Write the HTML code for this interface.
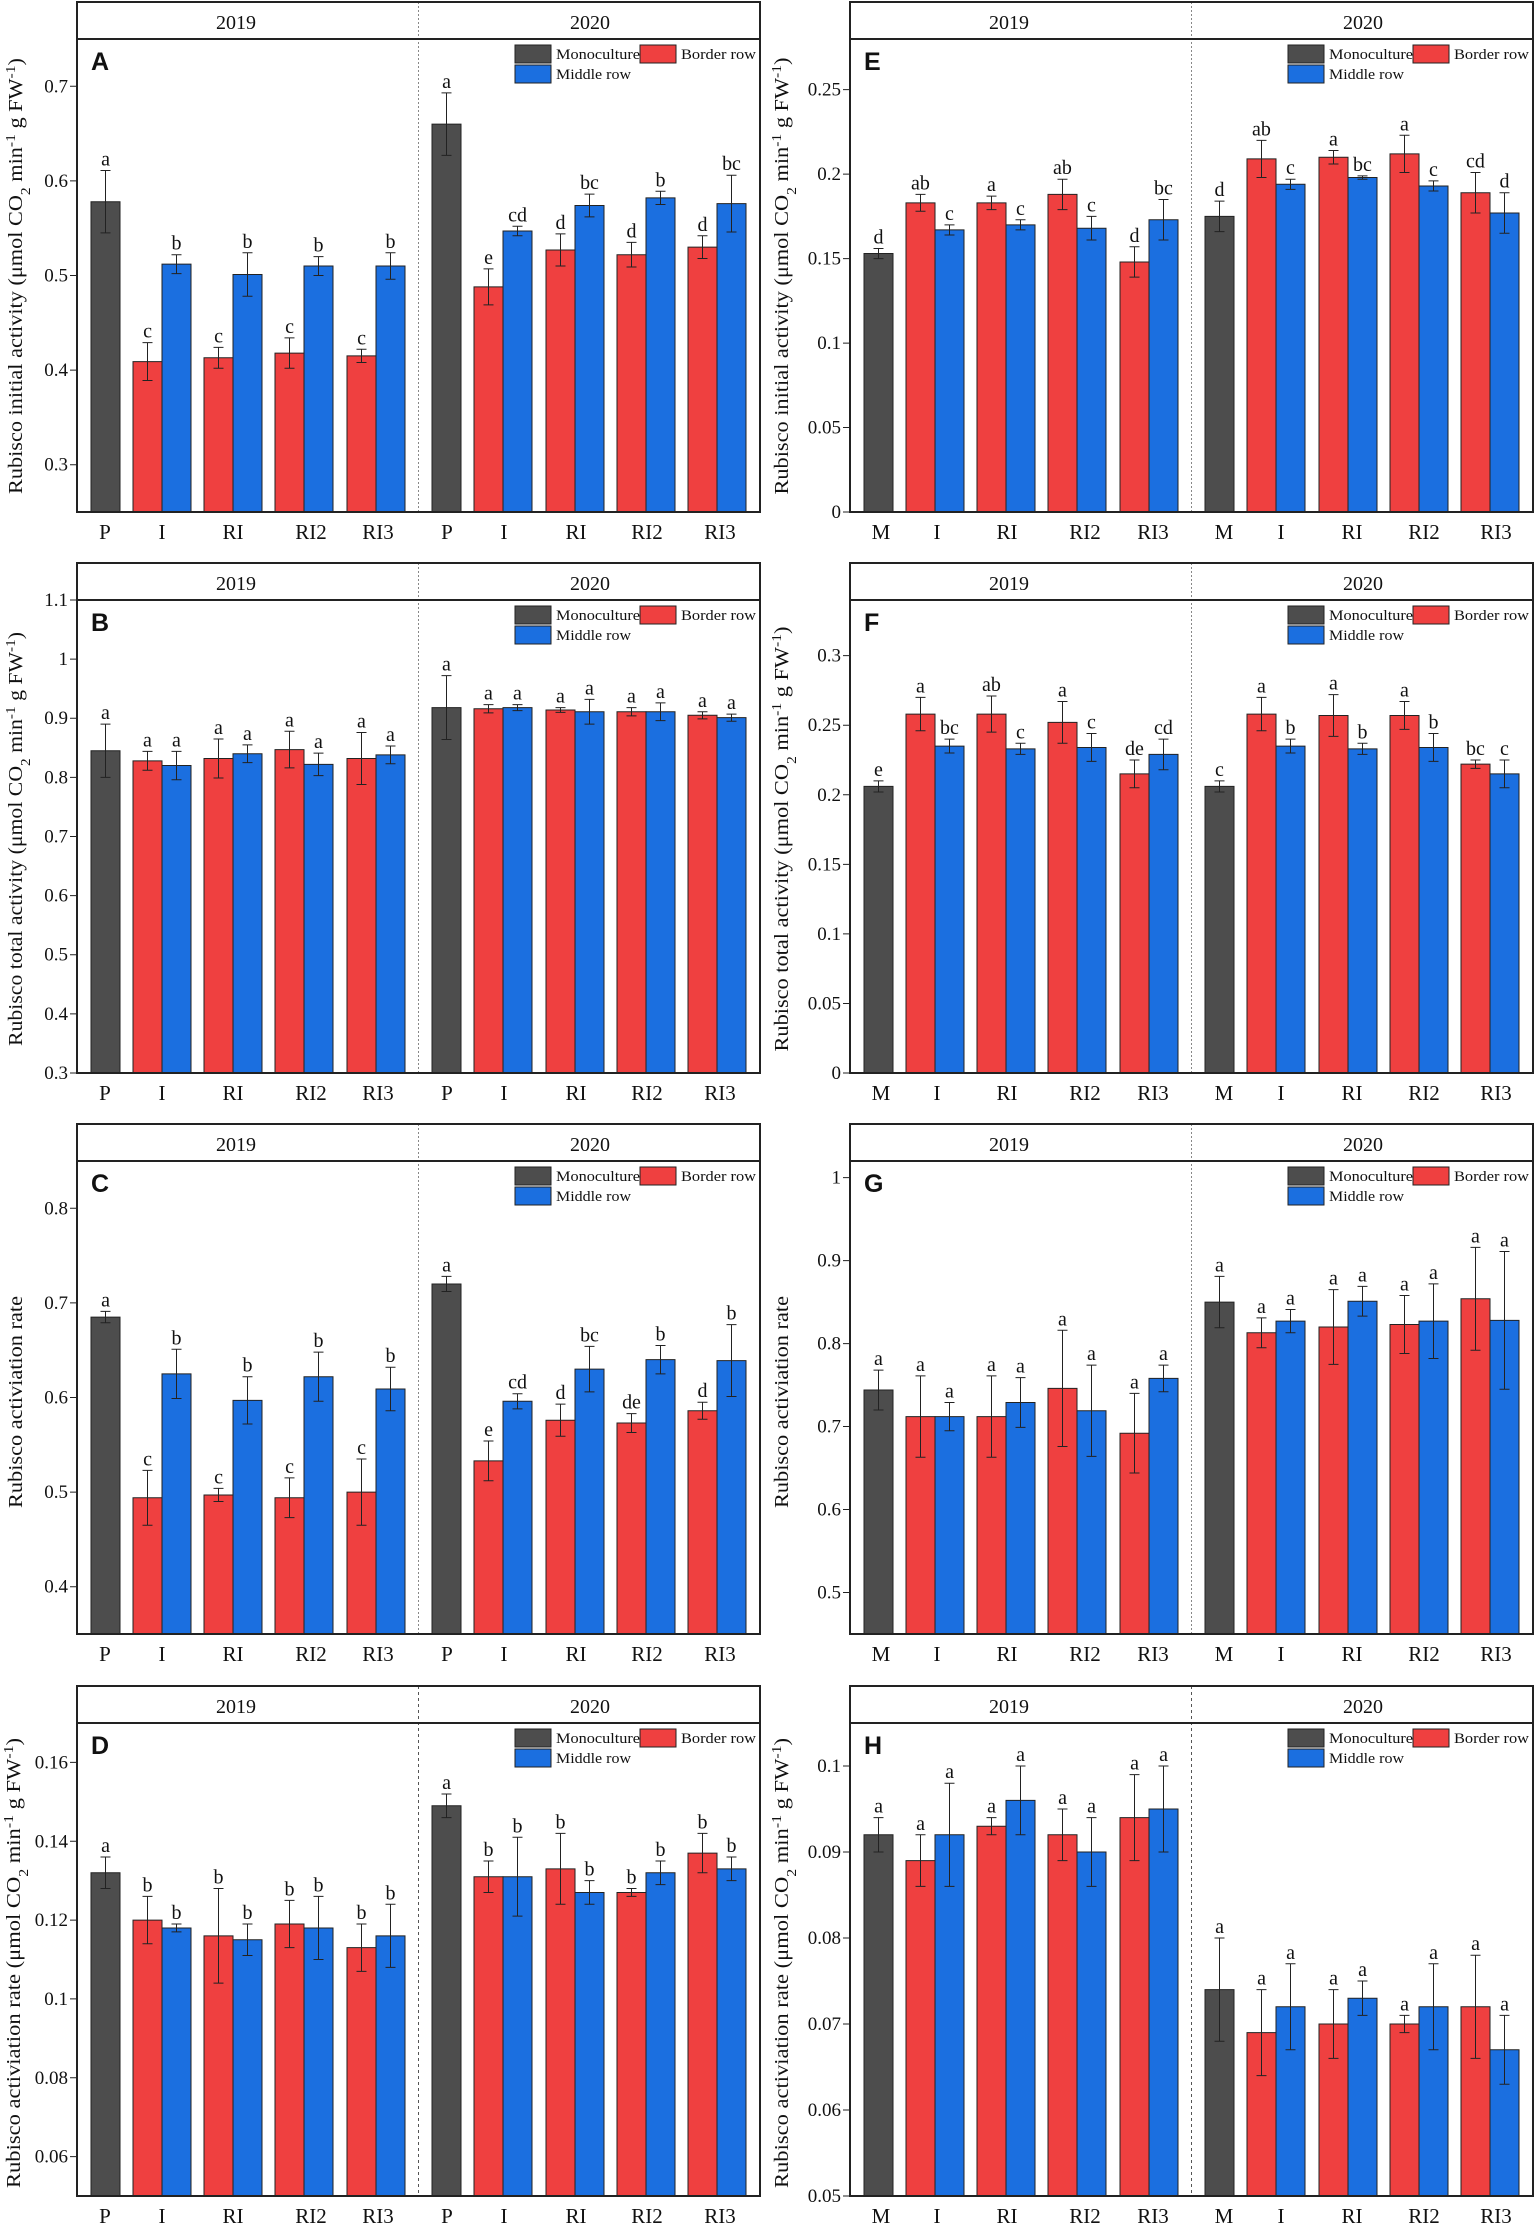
<!DOCTYPE html>
<html><head><meta charset="utf-8">
<style>
html,body{margin:0;padding:0;background:#fff;}
svg{display:block}
text{font-family:"Liberation Serif",serif;fill:#111}
.g{fill:#4d4d4d;stroke:#222;stroke-width:1;vector-effect:non-scaling-stroke}
.r{fill:#ef4040;stroke:#222;stroke-width:1;vector-effect:non-scaling-stroke}
.b{fill:#1b6fe0;stroke:#222;stroke-width:1;vector-effect:non-scaling-stroke}
.e{fill:none;stroke:#222;stroke-width:1;vector-effect:non-scaling-stroke}
.t{font-size:19px;text-anchor:end}
.l{font-size:20px;text-anchor:middle}
.x{font-size:21px;text-anchor:middle}
.y{font-size:20px;text-anchor:middle}
.lg{font-size:15px}
.L{font-family:"Liberation Sans",sans-serif;font-weight:bold;font-size:25px}
.fr{fill:none;stroke:#222;stroke-width:2}
.dv{stroke:#888;stroke-width:1;stroke-dasharray:2 2}
.al{font-size:20px;text-anchor:middle}
</style></head>
<body>
<svg width="1535" height="2225" viewBox="0 0 1535 2225" xmlns="http://www.w3.org/2000/svg">

<!-- ========== PANEL A ========== -->
<g transform="translate(77,2)">
<text class="al" transform="translate(-55,274) rotate(-90)" textLength="436" lengthAdjust="spacingAndGlyphs">Rubisco initial activity (μmol CO<tspan baseline-shift="sub" font-size="14">2</tspan> min<tspan baseline-shift="super" font-size="14">-1</tspan> g FW<tspan baseline-shift="super" font-size="14">-1</tspan>)</text>
<g transform="matrix(1,0,0,-946,0,746.5)">
<path class="e" d="M-7 .3H0M-7 .4H0M-7 .5H0M-7 .6H0M-7 .7H0"/>
<text class="t" transform="translate(-9 .3) scale(1 -.0010571)" y="6">0.3</text>
<text class="t" transform="translate(-9 .4) scale(1 -.0010571)" y="6">0.4</text>
<text class="t" transform="translate(-9 .5) scale(1 -.0010571)" y="6">0.5</text>
<text class="t" transform="translate(-9 .6) scale(1 -.0010571)" y="6">0.6</text>
<text class="t" transform="translate(-9 .7) scale(1 -.0010571)" y="6">0.7</text>
<path class="g" d="M14 .25V.578H43V.25Z"/>
<path class="r" d="M56 .25V.409H85V.25Z"/><path class="b" d="M85 .25V.512H114V.25Z"/>
<path class="r" d="M127 .25V.413H156V.25Z"/><path class="b" d="M156 .25V.501H185V.25Z"/>
<path class="r" d="M198 .25V.418H227V.25Z"/><path class="b" d="M227 .25V.510H256V.25Z"/>
<path class="r" d="M270 .25V.415H299V.25Z"/><path class="b" d="M299 .25V.510H328V.25Z"/>
<path class="g" d="M355 .25V.660H384V.25Z"/>
<path class="r" d="M397 .25V.488H426V.25Z"/><path class="b" d="M426 .25V.547H455V.25Z"/>
<path class="r" d="M469 .25V.527H498V.25Z"/><path class="b" d="M498 .25V.574H527V.25Z"/>
<path class="r" d="M540 .25V.522H569V.25Z"/><path class="b" d="M569 .25V.582H598V.25Z"/>
<path class="r" d="M611 .25V.530H640V.25Z"/><path class="b" d="M640 .25V.576H669V.25Z"/>
<path class="e" d="M23.5 .545H33.5M28.5 .545V.611M23.5 .611H33.5
M65.5 .389H75.5M70.5 .389V.429M65.5 .429H75.5
M94.5 .502H104.5M99.5 .502V.522M94.5 .522H104.5
M136.5 .402H146.5M141.5 .402V.424M136.5 .424H146.5
M165.5 .478H175.5M170.5 .478V.524M165.5 .524H175.5
M207.5 .402H217.5M212.5 .402V.434M207.5 .434H217.5
M236.5 .500H246.5M241.5 .500V.520M236.5 .520H246.5
M279.5 .408H289.5M284.5 .408V.422M279.5 .422H289.5
M308.5 .496H318.5M313.5 .496V.524M308.5 .524H318.5
M364.5 .627H374.5M369.5 .627V.693M364.5 .693H374.5
M406.5 .469H416.5M411.5 .469V.507M406.5 .507H416.5
M435.5 .542H445.5M440.5 .542V.552M435.5 .552H445.5
M478.5 .510H488.5M483.5 .510V.544M478.5 .544H488.5
M507.5 .562H517.5M512.5 .562V.586M507.5 .586H517.5
M549.5 .509H559.5M554.5 .509V.535M549.5 .535H559.5
M578.5 .575H588.5M583.5 .575V.589M578.5 .589H588.5
M620.5 .518H630.5M625.5 .518V.542M620.5 .542H630.5
M649.5 .546H659.5M654.5 .546V.606M649.5 .606H659.5"/>
<text class="l" transform="translate(28.5 .611) scale(1 -.0010571)" y="-5">a</text>
<text class="l" transform="translate(70.5 .429) scale(1 -.0010571)" y="-5">c</text>
<text class="l" transform="translate(99.5 .522) scale(1 -.0010571)" y="-5">b</text>
<text class="l" transform="translate(141.5 .424) scale(1 -.0010571)" y="-5">c</text>
<text class="l" transform="translate(170.5 .524) scale(1 -.0010571)" y="-5">b</text>
<text class="l" transform="translate(212.5 .434) scale(1 -.0010571)" y="-5">c</text>
<text class="l" transform="translate(241.5 .520) scale(1 -.0010571)" y="-5">b</text>
<text class="l" transform="translate(284.5 .422) scale(1 -.0010571)" y="-5">c</text>
<text class="l" transform="translate(313.5 .524) scale(1 -.0010571)" y="-5">b</text>
<text class="l" transform="translate(369.5 .693) scale(1 -.0010571)" y="-5">a</text>
<text class="l" transform="translate(411.5 .507) scale(1 -.0010571)" y="-5">e</text>
<text class="l" transform="translate(440.5 .552) scale(1 -.0010571)" y="-5">cd</text>
<text class="l" transform="translate(483.5 .544) scale(1 -.0010571)" y="-5">d</text>
<text class="l" transform="translate(512.5 .586) scale(1 -.0010571)" y="-5">bc</text>
<text class="l" transform="translate(554.5 .535) scale(1 -.0010571)" y="-5">d</text>
<text class="l" transform="translate(583.5 .589) scale(1 -.0010571)" y="-5">b</text>
<text class="l" transform="translate(625.5 .542) scale(1 -.0010571)" y="-5">d</text>
<text class="l" transform="translate(654.5 .606) scale(1 -.0010571)" y="-5">bc</text>
</g>
<line class="dv" x1="341.5" y1="0" x2="341.5" y2="510"/>
<rect class="fr" x="0" y="0" width="683" height="510"/>
<line class="fr" x1="0" y1="37" x2="683" y2="37"/>
<text class="y" x="159" y="27">2019</text><text class="y" x="513" y="27">2020</text>
<text class="L" x="14" y="68">A</text>
<rect class="g" x="438" y="43" width="36" height="18"/><text class="lg" x="479" y="57" textLength="84" lengthAdjust="spacingAndGlyphs">Monoculture</text>
<rect class="r" x="563" y="43" width="36" height="18"/><text class="lg" x="604" y="57" textLength="75" lengthAdjust="spacingAndGlyphs">Border row</text>
<rect class="b" x="438" y="63" width="36" height="18"/><text class="lg" x="479" y="77" textLength="75" lengthAdjust="spacingAndGlyphs">Middle row</text>
<text class="x" x="28" y="537">P</text><text class="x" x="85" y="537">I</text><text class="x" x="156" y="537">RI</text><text class="x" x="234" y="537">RI2</text><text class="x" x="301" y="537">RI3</text>
<text class="x" x="370" y="537">P</text><text class="x" x="427" y="537">I</text><text class="x" x="499" y="537">RI</text><text class="x" x="570" y="537">RI2</text><text class="x" x="643" y="537">RI3</text>
</g>

<!-- ========== PANEL B ========== -->
<g transform="translate(77,563)">
<text class="al" transform="translate(-55,276) rotate(-90)" textLength="414" lengthAdjust="spacingAndGlyphs">Rubisco total activity (μmol CO<tspan baseline-shift="sub" font-size="14">2</tspan> min<tspan baseline-shift="super" font-size="14">-1</tspan> g FW<tspan baseline-shift="super" font-size="14">-1</tspan>)</text>
<g transform="matrix(1,0,0,-591.25,0,687.375)">
<path class="e" d="M-7 .3H0M-7 .4H0M-7 .5H0M-7 .6H0M-7 .7H0M-7 .8H0M-7 .9H0M-7 1H0M-7 1.1H0"/>
<text class="t" transform="translate(-9 .3) scale(1 -.0016913)" y="6">0.3</text>
<text class="t" transform="translate(-9 .4) scale(1 -.0016913)" y="6">0.4</text>
<text class="t" transform="translate(-9 .5) scale(1 -.0016913)" y="6">0.5</text>
<text class="t" transform="translate(-9 .6) scale(1 -.0016913)" y="6">0.6</text>
<text class="t" transform="translate(-9 .7) scale(1 -.0016913)" y="6">0.7</text>
<text class="t" transform="translate(-9 .8) scale(1 -.0016913)" y="6">0.8</text>
<text class="t" transform="translate(-9 .9) scale(1 -.0016913)" y="6">0.9</text>
<text class="t" transform="translate(-9 1) scale(1 -.0016913)" y="6">1</text>
<text class="t" transform="translate(-9 1.1) scale(1 -.0016913)" y="6">1.1</text>
<path class="g" d="M14 .3V.845H43V.3Z"/>
<path class="r" d="M56 .3V.828H85V.3Z"/><path class="b" d="M85 .3V.820H114V.3Z"/>
<path class="r" d="M127 .3V.832H156V.3Z"/><path class="b" d="M156 .3V.840H185V.3Z"/>
<path class="r" d="M198 .3V.847H227V.3Z"/><path class="b" d="M227 .3V.822H256V.3Z"/>
<path class="r" d="M270 .3V.832H299V.3Z"/><path class="b" d="M299 .3V.838H328V.3Z"/>
<path class="g" d="M355 .3V.918H384V.3Z"/>
<path class="r" d="M397 .3V.916H426V.3Z"/><path class="b" d="M426 .3V.918H455V.3Z"/>
<path class="r" d="M469 .3V.914H498V.3Z"/><path class="b" d="M498 .3V.911H527V.3Z"/>
<path class="r" d="M540 .3V.911H569V.3Z"/><path class="b" d="M569 .3V.911H598V.3Z"/>
<path class="r" d="M611 .3V.905H640V.3Z"/><path class="b" d="M640 .3V.901H669V.3Z"/>
<path class="e" d="M23.5 .800H33.5M28.5 .800V.890M23.5 .890H33.5
M65.5 .812H75.5M70.5 .812V.844M65.5 .844H75.5
M94.5 .796H104.5M99.5 .796V.844M94.5 .844H104.5
M136.5 .799H146.5M141.5 .799V.865M136.5 .865H146.5
M165.5 .825H175.5M170.5 .825V.855M165.5 .855H175.5
M207.5 .816H217.5M212.5 .816V.878M207.5 .878H217.5
M236.5 .803H246.5M241.5 .803V.841M236.5 .841H246.5
M279.5 .788H289.5M284.5 .788V.876M279.5 .876H289.5
M308.5 .823H318.5M313.5 .823V.853M308.5 .853H318.5
M364.5 .864H374.5M369.5 .864V.972M364.5 .972H374.5
M406.5 .909H416.5M411.5 .909V.923M406.5 .923H416.5
M435.5 .913H445.5M440.5 .913V.923M435.5 .923H445.5
M478.5 .910H488.5M483.5 .910V.918M478.5 .918H488.5
M507.5 .890H517.5M512.5 .890V.932M507.5 .932H517.5
M549.5 .904H559.5M554.5 .904V.918M549.5 .918H559.5
M578.5 .896H588.5M583.5 .896V.926M578.5 .926H588.5
M620.5 .899H630.5M625.5 .899V.911M620.5 .911H630.5
M649.5 .895H659.5M654.5 .895V.907M649.5 .907H659.5"/>
<text class="l" transform="translate(28.5 .890) scale(1 -.0016913)" y="-5">a</text>
<text class="l" transform="translate(70.5 .844) scale(1 -.0016913)" y="-5">a</text>
<text class="l" transform="translate(99.5 .844) scale(1 -.0016913)" y="-5">a</text>
<text class="l" transform="translate(141.5 .865) scale(1 -.0016913)" y="-5">a</text>
<text class="l" transform="translate(170.5 .855) scale(1 -.0016913)" y="-5">a</text>
<text class="l" transform="translate(212.5 .878) scale(1 -.0016913)" y="-5">a</text>
<text class="l" transform="translate(241.5 .841) scale(1 -.0016913)" y="-5">a</text>
<text class="l" transform="translate(284.5 .876) scale(1 -.0016913)" y="-5">a</text>
<text class="l" transform="translate(313.5 .853) scale(1 -.0016913)" y="-5">a</text>
<text class="l" transform="translate(369.5 .972) scale(1 -.0016913)" y="-5">a</text>
<text class="l" transform="translate(411.5 .923) scale(1 -.0016913)" y="-5">a</text>
<text class="l" transform="translate(440.5 .923) scale(1 -.0016913)" y="-5">a</text>
<text class="l" transform="translate(483.5 .918) scale(1 -.0016913)" y="-5">a</text>
<text class="l" transform="translate(512.5 .932) scale(1 -.0016913)" y="-5">a</text>
<text class="l" transform="translate(554.5 .918) scale(1 -.0016913)" y="-5">a</text>
<text class="l" transform="translate(583.5 .926) scale(1 -.0016913)" y="-5">a</text>
<text class="l" transform="translate(625.5 .911) scale(1 -.0016913)" y="-5">a</text>
<text class="l" transform="translate(654.5 .907) scale(1 -.0016913)" y="-5">a</text>
</g>
<line class="dv" x1="341.5" y1="0" x2="341.5" y2="510"/>
<rect class="fr" x="0" y="0" width="683" height="510"/>
<line class="fr" x1="0" y1="37" x2="683" y2="37"/>
<text class="y" x="159" y="27">2019</text><text class="y" x="513" y="27">2020</text>
<text class="L" x="14" y="68">B</text>
<rect class="g" x="438" y="43" width="36" height="18"/><text class="lg" x="479" y="57" textLength="84" lengthAdjust="spacingAndGlyphs">Monoculture</text>
<rect class="r" x="563" y="43" width="36" height="18"/><text class="lg" x="604" y="57" textLength="75" lengthAdjust="spacingAndGlyphs">Border row</text>
<rect class="b" x="438" y="63" width="36" height="18"/><text class="lg" x="479" y="77" textLength="75" lengthAdjust="spacingAndGlyphs">Middle row</text>
<text class="x" x="28" y="537">P</text><text class="x" x="85" y="537">I</text><text class="x" x="156" y="537">RI</text><text class="x" x="234" y="537">RI2</text><text class="x" x="301" y="537">RI3</text>
<text class="x" x="370" y="537">P</text><text class="x" x="427" y="537">I</text><text class="x" x="499" y="537">RI</text><text class="x" x="570" y="537">RI2</text><text class="x" x="643" y="537">RI3</text>
</g>

<!-- ========== PANEL C ========== -->
<g transform="translate(77,1124)">
<text class="al" transform="translate(-55,278) rotate(-90)" textLength="212" lengthAdjust="spacingAndGlyphs">Rubisco activiation rate</text>
<g transform="matrix(1,0,0,-946,0,841.1)">
<path class="e" d="M-7 .4H0M-7 .5H0M-7 .6H0M-7 .7H0M-7 .8H0"/>
<text class="t" transform="translate(-9 .4) scale(1 -.0010571)" y="6">0.4</text>
<text class="t" transform="translate(-9 .5) scale(1 -.0010571)" y="6">0.5</text>
<text class="t" transform="translate(-9 .6) scale(1 -.0010571)" y="6">0.6</text>
<text class="t" transform="translate(-9 .7) scale(1 -.0010571)" y="6">0.7</text>
<text class="t" transform="translate(-9 .8) scale(1 -.0010571)" y="6">0.8</text>
<path class="g" d="M14 .35V.685H43V.35Z"/>
<path class="r" d="M56 .35V.494H85V.35Z"/><path class="b" d="M85 .35V.625H114V.35Z"/>
<path class="r" d="M127 .35V.497H156V.35Z"/><path class="b" d="M156 .35V.597H185V.35Z"/>
<path class="r" d="M198 .35V.494H227V.35Z"/><path class="b" d="M227 .35V.622H256V.35Z"/>
<path class="r" d="M270 .35V.500H299V.35Z"/><path class="b" d="M299 .35V.609H328V.35Z"/>
<path class="g" d="M355 .35V.720H384V.35Z"/>
<path class="r" d="M397 .35V.533H426V.35Z"/><path class="b" d="M426 .35V.596H455V.35Z"/>
<path class="r" d="M469 .35V.576H498V.35Z"/><path class="b" d="M498 .35V.630H527V.35Z"/>
<path class="r" d="M540 .35V.573H569V.35Z"/><path class="b" d="M569 .35V.640H598V.35Z"/>
<path class="r" d="M611 .35V.586H640V.35Z"/><path class="b" d="M640 .35V.639H669V.35Z"/>
<path class="e" d="M23.5 .679H33.5M28.5 .679V.691M23.5 .691H33.5
M65.5 .465H75.5M70.5 .465V.523M65.5 .523H75.5
M94.5 .599H104.5M99.5 .599V.651M94.5 .651H104.5
M136.5 .490H146.5M141.5 .490V.504M136.5 .504H146.5
M165.5 .572H175.5M170.5 .572V.622M165.5 .622H175.5
M207.5 .473H217.5M212.5 .473V.515M207.5 .515H217.5
M236.5 .596H246.5M241.5 .596V.648M236.5 .648H246.5
M279.5 .465H289.5M284.5 .465V.535M279.5 .535H289.5
M308.5 .586H318.5M313.5 .586V.632M308.5 .632H318.5
M364.5 .712H374.5M369.5 .712V.728M364.5 .728H374.5
M406.5 .512H416.5M411.5 .512V.554M406.5 .554H416.5
M435.5 .588H445.5M440.5 .588V.604M435.5 .604H445.5
M478.5 .559H488.5M483.5 .559V.593M478.5 .593H488.5
M507.5 .606H517.5M512.5 .606V.654M507.5 .654H517.5
M549.5 .563H559.5M554.5 .563V.583M549.5 .583H559.5
M578.5 .625H588.5M583.5 .625V.655M578.5 .655H588.5
M620.5 .577H630.5M625.5 .577V.595M620.5 .595H630.5
M649.5 .601H659.5M654.5 .601V.677M649.5 .677H659.5"/>
<text class="l" transform="translate(28.5 .691) scale(1 -.0010571)" y="-5">a</text>
<text class="l" transform="translate(70.5 .523) scale(1 -.0010571)" y="-5">c</text>
<text class="l" transform="translate(99.5 .651) scale(1 -.0010571)" y="-5">b</text>
<text class="l" transform="translate(141.5 .504) scale(1 -.0010571)" y="-5">c</text>
<text class="l" transform="translate(170.5 .622) scale(1 -.0010571)" y="-5">b</text>
<text class="l" transform="translate(212.5 .515) scale(1 -.0010571)" y="-5">c</text>
<text class="l" transform="translate(241.5 .648) scale(1 -.0010571)" y="-5">b</text>
<text class="l" transform="translate(284.5 .535) scale(1 -.0010571)" y="-5">c</text>
<text class="l" transform="translate(313.5 .632) scale(1 -.0010571)" y="-5">b</text>
<text class="l" transform="translate(369.5 .728) scale(1 -.0010571)" y="-5">a</text>
<text class="l" transform="translate(411.5 .554) scale(1 -.0010571)" y="-5">e</text>
<text class="l" transform="translate(440.5 .604) scale(1 -.0010571)" y="-5">cd</text>
<text class="l" transform="translate(483.5 .593) scale(1 -.0010571)" y="-5">d</text>
<text class="l" transform="translate(512.5 .654) scale(1 -.0010571)" y="-5">bc</text>
<text class="l" transform="translate(554.5 .583) scale(1 -.0010571)" y="-5">de</text>
<text class="l" transform="translate(583.5 .655) scale(1 -.0010571)" y="-5">b</text>
<text class="l" transform="translate(625.5 .595) scale(1 -.0010571)" y="-5">d</text>
<text class="l" transform="translate(654.5 .677) scale(1 -.0010571)" y="-5">b</text>
</g>
<line class="dv" x1="341.5" y1="0" x2="341.5" y2="510"/>
<rect class="fr" x="0" y="0" width="683" height="510"/>
<line class="fr" x1="0" y1="37" x2="683" y2="37"/>
<text class="y" x="159" y="27">2019</text><text class="y" x="513" y="27">2020</text>
<text class="L" x="14" y="68">C</text>
<rect class="g" x="438" y="43" width="36" height="18"/><text class="lg" x="479" y="57" textLength="84" lengthAdjust="spacingAndGlyphs">Monoculture</text>
<rect class="r" x="563" y="43" width="36" height="18"/><text class="lg" x="604" y="57" textLength="75" lengthAdjust="spacingAndGlyphs">Border row</text>
<rect class="b" x="438" y="63" width="36" height="18"/><text class="lg" x="479" y="77" textLength="75" lengthAdjust="spacingAndGlyphs">Middle row</text>
<text class="x" x="28" y="537">P</text><text class="x" x="85" y="537">I</text><text class="x" x="156" y="537">RI</text><text class="x" x="234" y="537">RI2</text><text class="x" x="301" y="537">RI3</text>
<text class="x" x="370" y="537">P</text><text class="x" x="427" y="537">I</text><text class="x" x="499" y="537">RI</text><text class="x" x="570" y="537">RI2</text><text class="x" x="643" y="537">RI3</text>
</g>

<!-- ========== PANEL D ========== -->
<g transform="translate(77,1686)">
<text class="al" transform="translate(-57,277) rotate(-90)" textLength="450" lengthAdjust="spacingAndGlyphs">Rubisco activiation rate (μmol CO<tspan baseline-shift="sub" font-size="14">2</tspan> min<tspan baseline-shift="super" font-size="14">-1</tspan> g FW<tspan baseline-shift="super" font-size="14">-1</tspan>)</text>
<g transform="matrix(1,0,0,-3941.7,0,707.08)">
<path class="e" d="M-7 .06H0M-7 .08H0M-7 .1H0M-7 .12H0M-7 .14H0M-7 .16H0"/>
<text class="t" transform="translate(-9 .06) scale(1 -.0002537)" y="6">0.06</text>
<text class="t" transform="translate(-9 .08) scale(1 -.0002537)" y="6">0.08</text>
<text class="t" transform="translate(-9 .1) scale(1 -.0002537)" y="6">0.1</text>
<text class="t" transform="translate(-9 .12) scale(1 -.0002537)" y="6">0.12</text>
<text class="t" transform="translate(-9 .14) scale(1 -.0002537)" y="6">0.14</text>
<text class="t" transform="translate(-9 .16) scale(1 -.0002537)" y="6">0.16</text>
<path class="g" d="M14 .05V.132H43V.05Z"/>
<path class="r" d="M56 .05V.120H85V.05Z"/><path class="b" d="M85 .05V.118H114V.05Z"/>
<path class="r" d="M127 .05V.116H156V.05Z"/><path class="b" d="M156 .05V.115H185V.05Z"/>
<path class="r" d="M198 .05V.119H227V.05Z"/><path class="b" d="M227 .05V.118H256V.05Z"/>
<path class="r" d="M270 .05V.113H299V.05Z"/><path class="b" d="M299 .05V.116H328V.05Z"/>
<path class="g" d="M355 .05V.149H384V.05Z"/>
<path class="r" d="M397 .05V.131H426V.05Z"/><path class="b" d="M426 .05V.131H455V.05Z"/>
<path class="r" d="M469 .05V.133H498V.05Z"/><path class="b" d="M498 .05V.127H527V.05Z"/>
<path class="r" d="M540 .05V.127H569V.05Z"/><path class="b" d="M569 .05V.132H598V.05Z"/>
<path class="r" d="M611 .05V.137H640V.05Z"/><path class="b" d="M640 .05V.133H669V.05Z"/>
<path class="e" d="M23.5 .128H33.5M28.5 .128V.136M23.5 .136H33.5
M65.5 .114H75.5M70.5 .114V.126M65.5 .126H75.5
M94.5 .117H104.5M99.5 .117V.119M94.5 .119H104.5
M136.5 .104H146.5M141.5 .104V.128M136.5 .128H146.5
M165.5 .111H175.5M170.5 .111V.119M165.5 .119H175.5
M207.5 .113H217.5M212.5 .113V.125M207.5 .125H217.5
M236.5 .110H246.5M241.5 .110V.126M236.5 .126H246.5
M279.5 .107H289.5M284.5 .107V.119M279.5 .119H289.5
M308.5 .108H318.5M313.5 .108V.124M308.5 .124H318.5
M364.5 .146H374.5M369.5 .146V.152M364.5 .152H374.5
M406.5 .127H416.5M411.5 .127V.135M406.5 .135H416.5
M435.5 .121H445.5M440.5 .121V.141M435.5 .141H445.5
M478.5 .124H488.5M483.5 .124V.142M478.5 .142H488.5
M507.5 .124H517.5M512.5 .124V.130M507.5 .130H517.5
M549.5 .126H559.5M554.5 .126V.128M549.5 .128H559.5
M578.5 .129H588.5M583.5 .129V.135M578.5 .135H588.5
M620.5 .132H630.5M625.5 .132V.142M620.5 .142H630.5
M649.5 .130H659.5M654.5 .130V.136M649.5 .136H659.5"/>
<text class="l" transform="translate(28.5 .136) scale(1 -.0002537)" y="-5">a</text>
<text class="l" transform="translate(70.5 .126) scale(1 -.0002537)" y="-5">b</text>
<text class="l" transform="translate(99.5 .119) scale(1 -.0002537)" y="-5">b</text>
<text class="l" transform="translate(141.5 .128) scale(1 -.0002537)" y="-5">b</text>
<text class="l" transform="translate(170.5 .119) scale(1 -.0002537)" y="-5">b</text>
<text class="l" transform="translate(212.5 .125) scale(1 -.0002537)" y="-5">b</text>
<text class="l" transform="translate(241.5 .126) scale(1 -.0002537)" y="-5">b</text>
<text class="l" transform="translate(284.5 .119) scale(1 -.0002537)" y="-5">b</text>
<text class="l" transform="translate(313.5 .124) scale(1 -.0002537)" y="-5">b</text>
<text class="l" transform="translate(369.5 .152) scale(1 -.0002537)" y="-5">a</text>
<text class="l" transform="translate(411.5 .135) scale(1 -.0002537)" y="-5">b</text>
<text class="l" transform="translate(440.5 .141) scale(1 -.0002537)" y="-5">b</text>
<text class="l" transform="translate(483.5 .142) scale(1 -.0002537)" y="-5">b</text>
<text class="l" transform="translate(512.5 .130) scale(1 -.0002537)" y="-5">b</text>
<text class="l" transform="translate(554.5 .128) scale(1 -.0002537)" y="-5">b</text>
<text class="l" transform="translate(583.5 .135) scale(1 -.0002537)" y="-5">b</text>
<text class="l" transform="translate(625.5 .142) scale(1 -.0002537)" y="-5">b</text>
<text class="l" transform="translate(654.5 .136) scale(1 -.0002537)" y="-5">b</text>
</g>
<line class="dv" x1="341.5" y1="0" x2="341.5" y2="510" style="stroke:#555;stroke-dasharray:3 3"/>
<rect class="fr" x="0" y="0" width="683" height="510"/>
<line class="fr" x1="0" y1="37" x2="683" y2="37"/>
<text class="y" x="159" y="27">2019</text><text class="y" x="513" y="27">2020</text>
<text class="L" x="14" y="68">D</text>
<rect class="g" x="438" y="43" width="36" height="18"/><text class="lg" x="479" y="57" textLength="84" lengthAdjust="spacingAndGlyphs">Monoculture</text>
<rect class="r" x="563" y="43" width="36" height="18"/><text class="lg" x="604" y="57" textLength="75" lengthAdjust="spacingAndGlyphs">Border row</text>
<rect class="b" x="438" y="63" width="36" height="18"/><text class="lg" x="479" y="77" textLength="75" lengthAdjust="spacingAndGlyphs">Middle row</text>
<text class="x" x="28" y="537">P</text><text class="x" x="85" y="537">I</text><text class="x" x="156" y="537">RI</text><text class="x" x="234" y="537">RI2</text><text class="x" x="301" y="537">RI3</text>
<text class="x" x="370" y="537">P</text><text class="x" x="427" y="537">I</text><text class="x" x="499" y="537">RI</text><text class="x" x="570" y="537">RI2</text><text class="x" x="643" y="537">RI3</text>
</g>

<!-- ========== PANEL E ========== -->
<g transform="translate(850,2)">
<text class="al" transform="translate(-62,274) rotate(-90)" textLength="437" lengthAdjust="spacingAndGlyphs">Rubisco initial activity (μmol CO<tspan baseline-shift="sub" font-size="14">2</tspan> min<tspan baseline-shift="super" font-size="14">-1</tspan> g FW<tspan baseline-shift="super" font-size="14">-1</tspan>)</text>
<g transform="matrix(1,0,0,-1689.3,0,510)">
<path class="e" d="M-7 0H0M-7 .05H0M-7 .1H0M-7 .15H0M-7 .2H0M-7 .25H0"/>
<text class="t" transform="translate(-9 0) scale(1 -.00059196)" y="6">0</text>
<text class="t" transform="translate(-9 .05) scale(1 -.00059196)" y="6">0.05</text>
<text class="t" transform="translate(-9 .1) scale(1 -.00059196)" y="6">0.1</text>
<text class="t" transform="translate(-9 .15) scale(1 -.00059196)" y="6">0.15</text>
<text class="t" transform="translate(-9 .2) scale(1 -.00059196)" y="6">0.2</text>
<text class="t" transform="translate(-9 .25) scale(1 -.00059196)" y="6">0.25</text>
<path class="g" d="M14 0V.153H43V0Z"/>
<path class="r" d="M56 0V.183H85V0Z"/><path class="b" d="M85 0V.167H114V0Z"/>
<path class="r" d="M127 0V.183H156V0Z"/><path class="b" d="M156 0V.170H185V0Z"/>
<path class="r" d="M198 0V.188H227V0Z"/><path class="b" d="M227 0V.168H256V0Z"/>
<path class="r" d="M270 0V.148H299V0Z"/><path class="b" d="M299 0V.173H328V0Z"/>
<path class="g" d="M355 0V.175H384V0Z"/>
<path class="r" d="M397 0V.209H426V0Z"/><path class="b" d="M426 0V.194H455V0Z"/>
<path class="r" d="M469 0V.210H498V0Z"/><path class="b" d="M498 0V.198H527V0Z"/>
<path class="r" d="M540 0V.212H569V0Z"/><path class="b" d="M569 0V.193H598V0Z"/>
<path class="r" d="M611 0V.189H640V0Z"/><path class="b" d="M640 0V.177H669V0Z"/>
<path class="e" d="M23.5 .150H33.5M28.5 .150V.156M23.5 .156H33.5
M65.5 .178H75.5M70.5 .178V.188M65.5 .188H75.5
M94.5 .164H104.5M99.5 .164V.170M94.5 .170H104.5
M136.5 .179H146.5M141.5 .179V.187M136.5 .187H146.5
M165.5 .167H175.5M170.5 .167V.173M165.5 .173H175.5
M207.5 .179H217.5M212.5 .179V.197M207.5 .197H217.5
M236.5 .161H246.5M241.5 .161V.175M236.5 .175H246.5
M279.5 .139H289.5M284.5 .139V.157M279.5 .157H289.5
M308.5 .161H318.5M313.5 .161V.185M308.5 .185H318.5
M364.5 .166H374.5M369.5 .166V.184M364.5 .184H374.5
M406.5 .198H416.5M411.5 .198V.220M406.5 .220H416.5
M435.5 .191H445.5M440.5 .191V.197M435.5 .197H445.5
M478.5 .206H488.5M483.5 .206V.214M478.5 .214H488.5
M507.5 .197H517.5M512.5 .197V.199M507.5 .199H517.5
M549.5 .201H559.5M554.5 .201V.223M549.5 .223H559.5
M578.5 .190H588.5M583.5 .190V.196M578.5 .196H588.5
M620.5 .177H630.5M625.5 .177V.201M620.5 .201H630.5
M649.5 .165H659.5M654.5 .165V.189M649.5 .189H659.5"/>
<text class="l" transform="translate(28.5 .156) scale(1 -.00059196)" y="-5">d</text>
<text class="l" transform="translate(70.5 .188) scale(1 -.00059196)" y="-5">ab</text>
<text class="l" transform="translate(99.5 .170) scale(1 -.00059196)" y="-5">c</text>
<text class="l" transform="translate(141.5 .187) scale(1 -.00059196)" y="-5">a</text>
<text class="l" transform="translate(170.5 .173) scale(1 -.00059196)" y="-5">c</text>
<text class="l" transform="translate(212.5 .197) scale(1 -.00059196)" y="-5">ab</text>
<text class="l" transform="translate(241.5 .175) scale(1 -.00059196)" y="-5">c</text>
<text class="l" transform="translate(284.5 .157) scale(1 -.00059196)" y="-5">d</text>
<text class="l" transform="translate(313.5 .185) scale(1 -.00059196)" y="-5">bc</text>
<text class="l" transform="translate(369.5 .184) scale(1 -.00059196)" y="-5">d</text>
<text class="l" transform="translate(411.5 .220) scale(1 -.00059196)" y="-5">ab</text>
<text class="l" transform="translate(440.5 .197) scale(1 -.00059196)" y="-5">c</text>
<text class="l" transform="translate(483.5 .214) scale(1 -.00059196)" y="-5">a</text>
<text class="l" transform="translate(512.5 .199) scale(1 -.00059196)" y="-5">bc</text>
<text class="l" transform="translate(554.5 .223) scale(1 -.00059196)" y="-5">a</text>
<text class="l" transform="translate(583.5 .196) scale(1 -.00059196)" y="-5">c</text>
<text class="l" transform="translate(625.5 .201) scale(1 -.00059196)" y="-5">cd</text>
<text class="l" transform="translate(654.5 .189) scale(1 -.00059196)" y="-5">d</text>
</g>
<line class="dv" x1="341.5" y1="0" x2="341.5" y2="510"/>
<rect class="fr" x="0" y="0" width="683" height="510"/>
<line class="fr" x1="0" y1="37" x2="683" y2="37"/>
<text class="y" x="159" y="27">2019</text><text class="y" x="513" y="27">2020</text>
<text class="L" x="14" y="68">E</text>
<rect class="g" x="438" y="43" width="36" height="18"/><text class="lg" x="479" y="57" textLength="84" lengthAdjust="spacingAndGlyphs">Monoculture</text>
<rect class="r" x="563" y="43" width="36" height="18"/><text class="lg" x="604" y="57" textLength="75" lengthAdjust="spacingAndGlyphs">Border row</text>
<rect class="b" x="438" y="63" width="36" height="18"/><text class="lg" x="479" y="77" textLength="75" lengthAdjust="spacingAndGlyphs">Middle row</text>
<text class="x" x="31" y="537">M</text><text class="x" x="87" y="537">I</text><text class="x" x="157" y="537">RI</text><text class="x" x="235" y="537">RI2</text><text class="x" x="303" y="537">RI3</text>
<text class="x" x="374" y="537">M</text><text class="x" x="431" y="537">I</text><text class="x" x="502" y="537">RI</text><text class="x" x="574" y="537">RI2</text><text class="x" x="646" y="537">RI3</text>
</g>

<!-- ========== PANEL F ========== -->
<g transform="translate(850,563)">
<text class="al" transform="translate(-62,276) rotate(-90)" textLength="425" lengthAdjust="spacingAndGlyphs">Rubisco total activity (μmol CO<tspan baseline-shift="sub" font-size="14">2</tspan> min<tspan baseline-shift="super" font-size="14">-1</tspan> g FW<tspan baseline-shift="super" font-size="14">-1</tspan>)</text>
<g transform="matrix(1,0,0,-1391.2,0,510)">
<path class="e" d="M-7 0H0M-7 .05H0M-7 .1H0M-7 .15H0M-7 .2H0M-7 .25H0M-7 .3H0"/>
<text class="t" transform="translate(-9 0) scale(1 -.0007188)" y="6">0</text>
<text class="t" transform="translate(-9 .05) scale(1 -.0007188)" y="6">0.05</text>
<text class="t" transform="translate(-9 .1) scale(1 -.0007188)" y="6">0.1</text>
<text class="t" transform="translate(-9 .15) scale(1 -.0007188)" y="6">0.15</text>
<text class="t" transform="translate(-9 .2) scale(1 -.0007188)" y="6">0.2</text>
<text class="t" transform="translate(-9 .25) scale(1 -.0007188)" y="6">0.25</text>
<text class="t" transform="translate(-9 .3) scale(1 -.0007188)" y="6">0.3</text>
<path class="g" d="M14 0V.206H43V0Z"/>
<path class="r" d="M56 0V.258H85V0Z"/><path class="b" d="M85 0V.235H114V0Z"/>
<path class="r" d="M127 0V.258H156V0Z"/><path class="b" d="M156 0V.233H185V0Z"/>
<path class="r" d="M198 0V.252H227V0Z"/><path class="b" d="M227 0V.234H256V0Z"/>
<path class="r" d="M270 0V.215H299V0Z"/><path class="b" d="M299 0V.229H328V0Z"/>
<path class="g" d="M355 0V.206H384V0Z"/>
<path class="r" d="M397 0V.258H426V0Z"/><path class="b" d="M426 0V.235H455V0Z"/>
<path class="r" d="M469 0V.257H498V0Z"/><path class="b" d="M498 0V.233H527V0Z"/>
<path class="r" d="M540 0V.257H569V0Z"/><path class="b" d="M569 0V.234H598V0Z"/>
<path class="r" d="M611 0V.222H640V0Z"/><path class="b" d="M640 0V.215H669V0Z"/>
<path class="e" d="M23.5 .202H33.5M28.5 .202V.210M23.5 .210H33.5
M65.5 .246H75.5M70.5 .246V.270M65.5 .270H75.5
M94.5 .230H104.5M99.5 .230V.240M94.5 .240H104.5
M136.5 .245H146.5M141.5 .245V.271M136.5 .271H146.5
M165.5 .229H175.5M170.5 .229V.237M165.5 .237H175.5
M207.5 .237H217.5M212.5 .237V.267M207.5 .267H217.5
M236.5 .224H246.5M241.5 .224V.244M236.5 .244H246.5
M279.5 .205H289.5M284.5 .205V.225M279.5 .225H289.5
M308.5 .218H318.5M313.5 .218V.240M308.5 .240H318.5
M364.5 .202H374.5M369.5 .202V.210M364.5 .210H374.5
M406.5 .246H416.5M411.5 .246V.270M406.5 .270H416.5
M435.5 .230H445.5M440.5 .230V.240M435.5 .240H445.5
M478.5 .242H488.5M483.5 .242V.272M478.5 .272H488.5
M507.5 .229H517.5M512.5 .229V.237M507.5 .237H517.5
M549.5 .247H559.5M554.5 .247V.267M549.5 .267H559.5
M578.5 .224H588.5M583.5 .224V.244M578.5 .244H588.5
M620.5 .219H630.5M625.5 .219V.225M620.5 .225H630.5
M649.5 .205H659.5M654.5 .205V.225M649.5 .225H659.5"/>
<text class="l" transform="translate(28.5 .210) scale(1 -.0007188)" y="-5">e</text>
<text class="l" transform="translate(70.5 .270) scale(1 -.0007188)" y="-5">a</text>
<text class="l" transform="translate(99.5 .240) scale(1 -.0007188)" y="-5">bc</text>
<text class="l" transform="translate(141.5 .271) scale(1 -.0007188)" y="-5">ab</text>
<text class="l" transform="translate(170.5 .237) scale(1 -.0007188)" y="-5">c</text>
<text class="l" transform="translate(212.5 .267) scale(1 -.0007188)" y="-5">a</text>
<text class="l" transform="translate(241.5 .244) scale(1 -.0007188)" y="-5">c</text>
<text class="l" transform="translate(284.5 .225) scale(1 -.0007188)" y="-5">de</text>
<text class="l" transform="translate(313.5 .240) scale(1 -.0007188)" y="-5">cd</text>
<text class="l" transform="translate(369.5 .210) scale(1 -.0007188)" y="-5">c</text>
<text class="l" transform="translate(411.5 .270) scale(1 -.0007188)" y="-5">a</text>
<text class="l" transform="translate(440.5 .240) scale(1 -.0007188)" y="-5">b</text>
<text class="l" transform="translate(483.5 .272) scale(1 -.0007188)" y="-5">a</text>
<text class="l" transform="translate(512.5 .237) scale(1 -.0007188)" y="-5">b</text>
<text class="l" transform="translate(554.5 .267) scale(1 -.0007188)" y="-5">a</text>
<text class="l" transform="translate(583.5 .244) scale(1 -.0007188)" y="-5">b</text>
<text class="l" transform="translate(625.5 .225) scale(1 -.0007188)" y="-5">bc</text>
<text class="l" transform="translate(654.5 .225) scale(1 -.0007188)" y="-5">c</text>
</g>
<line class="dv" x1="341.5" y1="0" x2="341.5" y2="510"/>
<rect class="fr" x="0" y="0" width="683" height="510"/>
<line class="fr" x1="0" y1="37" x2="683" y2="37"/>
<text class="y" x="159" y="27">2019</text><text class="y" x="513" y="27">2020</text>
<text class="L" x="14" y="68">F</text>
<rect class="g" x="438" y="43" width="36" height="18"/><text class="lg" x="479" y="57" textLength="84" lengthAdjust="spacingAndGlyphs">Monoculture</text>
<rect class="r" x="563" y="43" width="36" height="18"/><text class="lg" x="604" y="57" textLength="75" lengthAdjust="spacingAndGlyphs">Border row</text>
<rect class="b" x="438" y="63" width="36" height="18"/><text class="lg" x="479" y="77" textLength="75" lengthAdjust="spacingAndGlyphs">Middle row</text>
<text class="x" x="31" y="537">M</text><text class="x" x="87" y="537">I</text><text class="x" x="157" y="537">RI</text><text class="x" x="235" y="537">RI2</text><text class="x" x="303" y="537">RI3</text>
<text class="x" x="374" y="537">M</text><text class="x" x="431" y="537">I</text><text class="x" x="502" y="537">RI</text><text class="x" x="574" y="537">RI2</text><text class="x" x="646" y="537">RI3</text>
</g>

<!-- ========== PANEL G ========== -->
<g transform="translate(850,1124)">
<text class="al" transform="translate(-62,278) rotate(-90)" textLength="212" lengthAdjust="spacingAndGlyphs">Rubisco activiation rate</text>
<g transform="matrix(1,0,0,-829.8,0,883.41)">
<path class="e" d="M-7 .5H0M-7 .6H0M-7 .7H0M-7 .8H0M-7 .9H0M-7 1H0"/>
<text class="t" transform="translate(-9 .5) scale(1 -.0012051)" y="6">0.5</text>
<text class="t" transform="translate(-9 .6) scale(1 -.0012051)" y="6">0.6</text>
<text class="t" transform="translate(-9 .7) scale(1 -.0012051)" y="6">0.7</text>
<text class="t" transform="translate(-9 .8) scale(1 -.0012051)" y="6">0.8</text>
<text class="t" transform="translate(-9 .9) scale(1 -.0012051)" y="6">0.9</text>
<text class="t" transform="translate(-9 1) scale(1 -.0012051)" y="6">1</text>
<path class="g" d="M14 .45V.744H43V.45Z"/>
<path class="r" d="M56 .45V.712H85V.45Z"/><path class="b" d="M85 .45V.712H114V.45Z"/>
<path class="r" d="M127 .45V.712H156V.45Z"/><path class="b" d="M156 .45V.729H185V.45Z"/>
<path class="r" d="M198 .45V.746H227V.45Z"/><path class="b" d="M227 .45V.719H256V.45Z"/>
<path class="r" d="M270 .45V.692H299V.45Z"/><path class="b" d="M299 .45V.758H328V.45Z"/>
<path class="g" d="M355 .45V.850H384V.45Z"/>
<path class="r" d="M397 .45V.813H426V.45Z"/><path class="b" d="M426 .45V.827H455V.45Z"/>
<path class="r" d="M469 .45V.820H498V.45Z"/><path class="b" d="M498 .45V.851H527V.45Z"/>
<path class="r" d="M540 .45V.823H569V.45Z"/><path class="b" d="M569 .45V.827H598V.45Z"/>
<path class="r" d="M611 .45V.854H640V.45Z"/><path class="b" d="M640 .45V.828H669V.45Z"/>
<path class="e" d="M23.5 .720H33.5M28.5 .720V.768M23.5 .768H33.5
M65.5 .663H75.5M70.5 .663V.761M65.5 .761H75.5
M94.5 .695H104.5M99.5 .695V.729M94.5 .729H104.5
M136.5 .663H146.5M141.5 .663V.761M136.5 .761H146.5
M165.5 .699H175.5M170.5 .699V.759M165.5 .759H175.5
M207.5 .676H217.5M212.5 .676V.816M207.5 .816H217.5
M236.5 .664H246.5M241.5 .664V.774M236.5 .774H246.5
M279.5 .644H289.5M284.5 .644V.740M279.5 .740H289.5
M308.5 .742H318.5M313.5 .742V.774M308.5 .774H318.5
M364.5 .819H374.5M369.5 .819V.881M364.5 .881H374.5
M406.5 .795H416.5M411.5 .795V.831M406.5 .831H416.5
M435.5 .813H445.5M440.5 .813V.841M435.5 .841H445.5
M478.5 .775H488.5M483.5 .775V.865M478.5 .865H488.5
M507.5 .833H517.5M512.5 .833V.869M507.5 .869H517.5
M549.5 .788H559.5M554.5 .788V.858M549.5 .858H559.5
M578.5 .782H588.5M583.5 .782V.872M578.5 .872H588.5
M620.5 .792H630.5M625.5 .792V.916M620.5 .916H630.5
M649.5 .745H659.5M654.5 .745V.911M649.5 .911H659.5"/>
<text class="l" transform="translate(28.5 .768) scale(1 -.0012051)" y="-5">a</text>
<text class="l" transform="translate(70.5 .761) scale(1 -.0012051)" y="-5">a</text>
<text class="l" transform="translate(99.5 .729) scale(1 -.0012051)" y="-5">a</text>
<text class="l" transform="translate(141.5 .761) scale(1 -.0012051)" y="-5">a</text>
<text class="l" transform="translate(170.5 .759) scale(1 -.0012051)" y="-5">a</text>
<text class="l" transform="translate(212.5 .816) scale(1 -.0012051)" y="-5">a</text>
<text class="l" transform="translate(241.5 .774) scale(1 -.0012051)" y="-5">a</text>
<text class="l" transform="translate(284.5 .740) scale(1 -.0012051)" y="-5">a</text>
<text class="l" transform="translate(313.5 .774) scale(1 -.0012051)" y="-5">a</text>
<text class="l" transform="translate(369.5 .881) scale(1 -.0012051)" y="-5">a</text>
<text class="l" transform="translate(411.5 .831) scale(1 -.0012051)" y="-5">a</text>
<text class="l" transform="translate(440.5 .841) scale(1 -.0012051)" y="-5">a</text>
<text class="l" transform="translate(483.5 .865) scale(1 -.0012051)" y="-5">a</text>
<text class="l" transform="translate(512.5 .869) scale(1 -.0012051)" y="-5">a</text>
<text class="l" transform="translate(554.5 .858) scale(1 -.0012051)" y="-5">a</text>
<text class="l" transform="translate(583.5 .872) scale(1 -.0012051)" y="-5">a</text>
<text class="l" transform="translate(625.5 .916) scale(1 -.0012051)" y="-5">a</text>
<text class="l" transform="translate(654.5 .911) scale(1 -.0012051)" y="-5">a</text>
</g>
<line class="dv" x1="341.5" y1="0" x2="341.5" y2="510"/>
<rect class="fr" x="0" y="0" width="683" height="510"/>
<line class="fr" x1="0" y1="37" x2="683" y2="37"/>
<text class="y" x="159" y="27">2019</text><text class="y" x="513" y="27">2020</text>
<text class="L" x="14" y="68">G</text>
<rect class="g" x="438" y="43" width="36" height="18"/><text class="lg" x="479" y="57" textLength="84" lengthAdjust="spacingAndGlyphs">Monoculture</text>
<rect class="r" x="563" y="43" width="36" height="18"/><text class="lg" x="604" y="57" textLength="75" lengthAdjust="spacingAndGlyphs">Border row</text>
<rect class="b" x="438" y="63" width="36" height="18"/><text class="lg" x="479" y="77" textLength="75" lengthAdjust="spacingAndGlyphs">Middle row</text>
<text class="x" x="31" y="537">M</text><text class="x" x="87" y="537">I</text><text class="x" x="157" y="537">RI</text><text class="x" x="235" y="537">RI2</text><text class="x" x="303" y="537">RI3</text>
<text class="x" x="374" y="537">M</text><text class="x" x="431" y="537">I</text><text class="x" x="502" y="537">RI</text><text class="x" x="574" y="537">RI2</text><text class="x" x="646" y="537">RI3</text>
</g>

<!-- ========== PANEL H ========== -->
<g transform="translate(850,1686)">
<text class="al" transform="translate(-62,277) rotate(-90)" textLength="450" lengthAdjust="spacingAndGlyphs">Rubisco activiation rate (μmol CO<tspan baseline-shift="sub" font-size="14">2</tspan> min<tspan baseline-shift="super" font-size="14">-1</tspan> g FW<tspan baseline-shift="super" font-size="14">-1</tspan>)</text>
<g transform="matrix(1,0,0,-8600,0,940)">
<path class="e" d="M-7 .05H0M-7 .06H0M-7 .07H0M-7 .08H0M-7 .09H0M-7 .1H0"/>
<text class="t" transform="translate(-9 .05) scale(1 -.00011628)" y="6">0.05</text>
<text class="t" transform="translate(-9 .06) scale(1 -.00011628)" y="6">0.06</text>
<text class="t" transform="translate(-9 .07) scale(1 -.00011628)" y="6">0.07</text>
<text class="t" transform="translate(-9 .08) scale(1 -.00011628)" y="6">0.08</text>
<text class="t" transform="translate(-9 .09) scale(1 -.00011628)" y="6">0.09</text>
<text class="t" transform="translate(-9 .1) scale(1 -.00011628)" y="6">0.1</text>
<path class="g" d="M14 .05V.092H43V.05Z"/>
<path class="r" d="M56 .05V.089H85V.05Z"/><path class="b" d="M85 .05V.092H114V.05Z"/>
<path class="r" d="M127 .05V.093H156V.05Z"/><path class="b" d="M156 .05V.096H185V.05Z"/>
<path class="r" d="M198 .05V.092H227V.05Z"/><path class="b" d="M227 .05V.090H256V.05Z"/>
<path class="r" d="M270 .05V.094H299V.05Z"/><path class="b" d="M299 .05V.095H328V.05Z"/>
<path class="g" d="M355 .05V.074H384V.05Z"/>
<path class="r" d="M397 .05V.069H426V.05Z"/><path class="b" d="M426 .05V.072H455V.05Z"/>
<path class="r" d="M469 .05V.070H498V.05Z"/><path class="b" d="M498 .05V.073H527V.05Z"/>
<path class="r" d="M540 .05V.070H569V.05Z"/><path class="b" d="M569 .05V.072H598V.05Z"/>
<path class="r" d="M611 .05V.072H640V.05Z"/><path class="b" d="M640 .05V.067H669V.05Z"/>
<path class="e" d="M23.5 .090H33.5M28.5 .090V.094M23.5 .094H33.5
M65.5 .086H75.5M70.5 .086V.092M65.5 .092H75.5
M94.5 .086H104.5M99.5 .086V.098M94.5 .098H104.5
M136.5 .092H146.5M141.5 .092V.094M136.5 .094H146.5
M165.5 .092H175.5M170.5 .092V.100M165.5 .100H175.5
M207.5 .089H217.5M212.5 .089V.095M207.5 .095H217.5
M236.5 .086H246.5M241.5 .086V.094M236.5 .094H246.5
M279.5 .089H289.5M284.5 .089V.099M279.5 .099H289.5
M308.5 .090H318.5M313.5 .090V.100M308.5 .100H318.5
M364.5 .068H374.5M369.5 .068V.080M364.5 .080H374.5
M406.5 .064H416.5M411.5 .064V.074M406.5 .074H416.5
M435.5 .067H445.5M440.5 .067V.077M435.5 .077H445.5
M478.5 .066H488.5M483.5 .066V.074M478.5 .074H488.5
M507.5 .071H517.5M512.5 .071V.075M507.5 .075H517.5
M549.5 .069H559.5M554.5 .069V.071M549.5 .071H559.5
M578.5 .067H588.5M583.5 .067V.077M578.5 .077H588.5
M620.5 .066H630.5M625.5 .066V.078M620.5 .078H630.5
M649.5 .063H659.5M654.5 .063V.071M649.5 .071H659.5"/>
<text class="l" transform="translate(28.5 .094) scale(1 -.00011628)" y="-5">a</text>
<text class="l" transform="translate(70.5 .092) scale(1 -.00011628)" y="-5">a</text>
<text class="l" transform="translate(99.5 .098) scale(1 -.00011628)" y="-5">a</text>
<text class="l" transform="translate(141.5 .094) scale(1 -.00011628)" y="-5">a</text>
<text class="l" transform="translate(170.5 .100) scale(1 -.00011628)" y="-5">a</text>
<text class="l" transform="translate(212.5 .095) scale(1 -.00011628)" y="-5">a</text>
<text class="l" transform="translate(241.5 .094) scale(1 -.00011628)" y="-5">a</text>
<text class="l" transform="translate(284.5 .099) scale(1 -.00011628)" y="-5">a</text>
<text class="l" transform="translate(313.5 .100) scale(1 -.00011628)" y="-5">a</text>
<text class="l" transform="translate(369.5 .080) scale(1 -.00011628)" y="-5">a</text>
<text class="l" transform="translate(411.5 .074) scale(1 -.00011628)" y="-5">a</text>
<text class="l" transform="translate(440.5 .077) scale(1 -.00011628)" y="-5">a</text>
<text class="l" transform="translate(483.5 .074) scale(1 -.00011628)" y="-5">a</text>
<text class="l" transform="translate(512.5 .075) scale(1 -.00011628)" y="-5">a</text>
<text class="l" transform="translate(554.5 .071) scale(1 -.00011628)" y="-5">a</text>
<text class="l" transform="translate(583.5 .077) scale(1 -.00011628)" y="-5">a</text>
<text class="l" transform="translate(625.5 .078) scale(1 -.00011628)" y="-5">a</text>
<text class="l" transform="translate(654.5 .071) scale(1 -.00011628)" y="-5">a</text>
</g>
<line class="dv" x1="341.5" y1="0" x2="341.5" y2="510" style="stroke:#555;stroke-dasharray:3 3"/>
<rect class="fr" x="0" y="0" width="683" height="510"/>
<line class="fr" x1="0" y1="37" x2="683" y2="37"/>
<text class="y" x="159" y="27">2019</text><text class="y" x="513" y="27">2020</text>
<text class="L" x="14" y="68">H</text>
<rect class="g" x="438" y="43" width="36" height="18"/><text class="lg" x="479" y="57" textLength="84" lengthAdjust="spacingAndGlyphs">Monoculture</text>
<rect class="r" x="563" y="43" width="36" height="18"/><text class="lg" x="604" y="57" textLength="75" lengthAdjust="spacingAndGlyphs">Border row</text>
<rect class="b" x="438" y="63" width="36" height="18"/><text class="lg" x="479" y="77" textLength="75" lengthAdjust="spacingAndGlyphs">Middle row</text>
<text class="x" x="31" y="537">M</text><text class="x" x="87" y="537">I</text><text class="x" x="157" y="537">RI</text><text class="x" x="235" y="537">RI2</text><text class="x" x="303" y="537">RI3</text>
<text class="x" x="374" y="537">M</text><text class="x" x="431" y="537">I</text><text class="x" x="502" y="537">RI</text><text class="x" x="574" y="537">RI2</text><text class="x" x="646" y="537">RI3</text>
</g>

</svg>
</body></html>
